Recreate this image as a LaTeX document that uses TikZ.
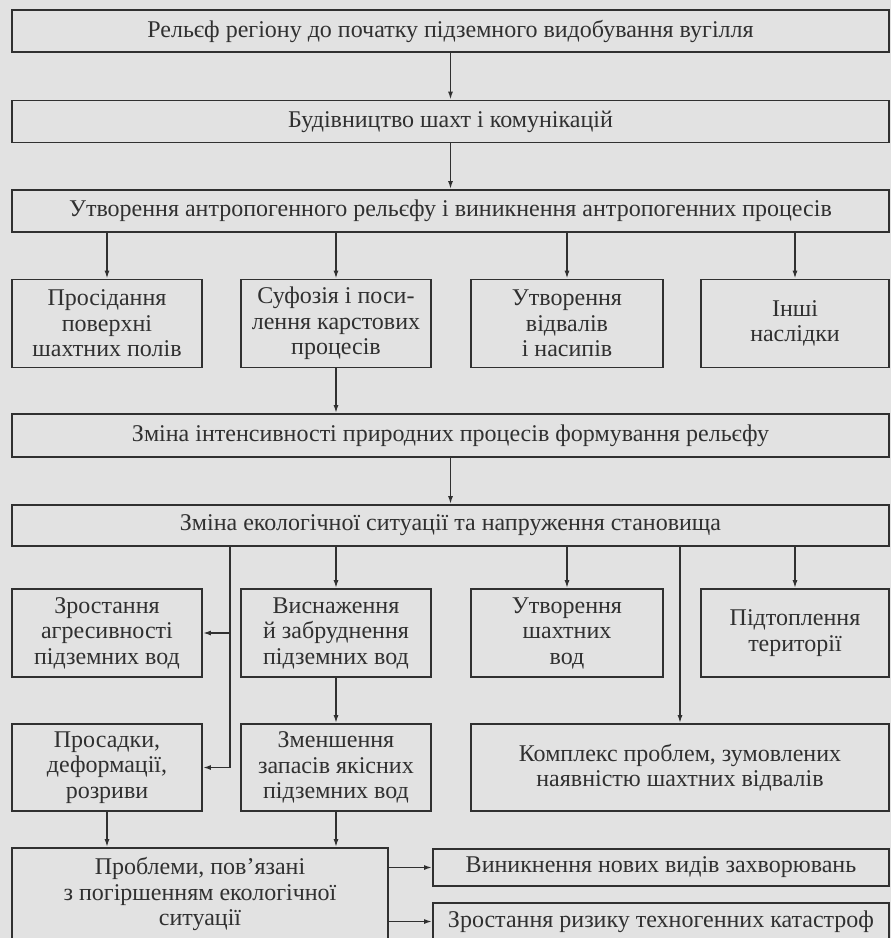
\documentclass[tikz,border=0pt]{standalone}
\usepackage{fontspec}
\setmainfont{Liberation Serif}
\usetikzlibrary{arrows.meta}
\definecolor{paper}{RGB}{226,226,226}
\definecolor{ink}{RGB}{48,48,48}
\tikzset{
  box/.style={draw=ink, line width=1.8pt, align=center, inner sep=0pt, text=ink,
    font=\fontsize{24}{25.5}\selectfont},
  wide/.style={box, minimum width=877pt, minimum height=42pt},
  cell/.style={box, minimum width=190pt, minimum height=88pt},
  arr/.style={draw=ink, line width=1.5pt, -{Latex[length=8pt,width=5pt]}}
}
\begin{document}
\begin{tikzpicture}[x=1pt, y=-1pt]
	\useasboundingbox (0,0) rectangle (891,938);
	\fill[paper] (0,0) rectangle (891,938);
	\clip (0,0) rectangle (891,938);
	\node[wide] (relief) at (450.5,31) {Рельєф регіону до початку підземного видобування вугілля};
	\node[wide] (build) at (450.5,121.5) {Будівництво шахт і комунікацій};
	\node[wide] (anthro) at (450.5,211) {Утворення антропогенного рельєфу і виникнення антропогенних процесів};
	\node[cell] (subs) at (107,323.5) {Просідання\\поверхні\\шахтних полів};
	\node[cell] (suff) at (336,323.5) {Суфозія і поси-\\лення карстових\\процесів};
	\node[cell, minimum width=192pt] (dump) at (567,323.5) {Утворення\\відвалів\\і насипів};
	\node[cell, minimum width=188pt] (other) at (795,323.5) {Інші\\наслідки};
	\node[wide, minimum height=43pt] (natural) at (450.5,435.5) {Зміна інтенсивності природних процесів формування рельєфу};
	\node[wide, minimum height=41pt] (eco) at (450.5,525.5) {Зміна екологічної ситуації та напруження становища};
	\node[cell] (aggr) at (107,633) {Зростання\\агресивності\\підземних вод};
	\node[cell] (depl) at (336,633) {Виснаження\\й забруднення\\підземних вод};
	\node[cell, minimum width=192pt] (minew) at (567,633) {Утворення\\шахтних\\вод};
	\node[cell, minimum width=188pt] (flood) at (795,633) {Підтоплення\\території};
	\node[cell, minimum height=87pt] (sag) at (107,767.5) {Просадки,\\деформації,\\розриви};
	\node[cell, minimum height=87pt] (reduce) at (336,767.5) {Зменшення\\запасів якісних\\підземних вод};
	\node[box, minimum width=418pt, minimum height=87pt] (complex) at (680,767.5) {Комплекс проблем, зумовлених\\наявністю шахтних відвалів};
	\node[box, minimum width=376pt, minimum height=92pt] (probl) at (200,894) {Проблеми, пов’язані\\з погіршенням екологічної\\ситуації};
	\node[box, minimum width=456pt, minimum height=37pt] (disease) at (661,867.5) {Виникнення нових видів захворювань};
	\node[box, minimum width=456pt, minimum height=37pt] (risk) at (661,921.5) {Зростання ризику техногенних катастроф};
	\coordinate (lbend) at (230,767.5);
	\draw[arr] (relief) -- (build);
	\draw[arr] (build) -- (anthro);
	\foreach \n in {subs,suff,dump,other} \draw[arr] (anthro.south -| \n.north) -- (\n.north);
	\draw[arr] (suff.south) -- (suff.south |- natural.north);
	\draw[arr] (natural) -- (eco);
	\foreach \n in {depl,minew,flood} \draw[arr] (eco.south -| \n.north) -- (\n.north);
	\draw[arr] (eco.south -| complex.north) -- (complex.north);
	\draw[arr] (eco.south -| lbend) -- (lbend) -- (sag.east);
	\draw[arr] (lbend |- aggr.east) -- (aggr.east);
	\draw[arr] (depl.south) -- (reduce.north);
	\draw[arr] (sag.south) -- (sag.south |- probl.north);
	\draw[arr] (reduce.south) -- (reduce.south |- probl.north);
	\draw[arr] (probl.east |- disease.west) -- (disease.west);
	\draw[arr] (probl.east |- risk.west) -- (risk.west);
\end{tikzpicture}
\end{document}
